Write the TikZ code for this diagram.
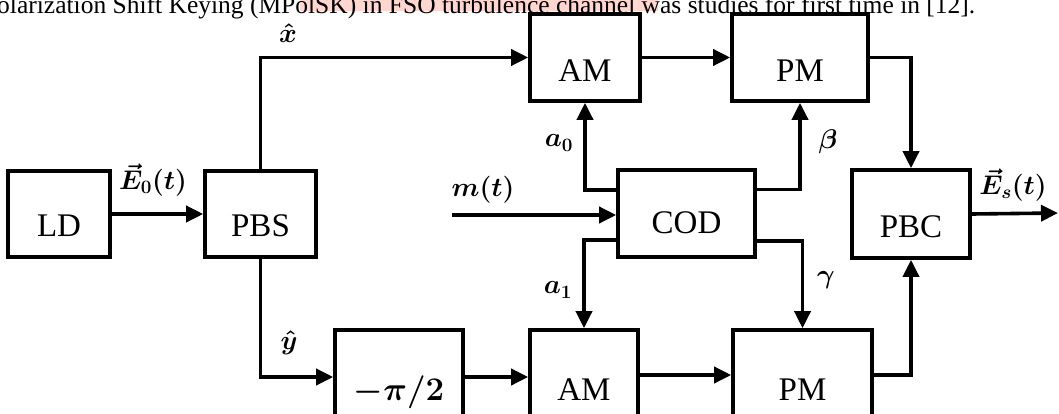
\RequirePackage{fix-cm}
\documentclass[tikz,border=0pt]{standalone}
\usepackage{amsmath}
\usepackage{fontspec}
\setmainfont{Liberation Serif}
\usetikzlibrary{arrows.meta}
\definecolor{hl}{RGB}{255,214,208}
\tikzset{
  blk/.style={draw, line width=3.6pt, inner sep=0pt, font=\fontsize{33}{36}\selectfont},
  arr/.style={line width=3.6pt, -{Triangle[length=17pt,width=16pt]}},
  lbl/.style={inner sep=0pt, font=\fontsize{27}{30}\selectfont\boldmath},
}
\newcommand\lowt[2]{\raisebox{-#1}[0pt][0pt]{#2}}
\begin{document}
\begin{tikzpicture}[x=1pt,y=-1pt]
\useasboundingbox (0,0) rectangle (1059,414);
\clip (0,0) rectangle (1059,414);
% cut-off caption line
\fill[hl] (300,-6) rectangle (658,11);
\node[anchor=base west, inner sep=0pt, font=\fontsize{25.5}{28}\selectfont] (cap) at (-3,13.5)
  {olarization Shift Keying (MPolSK) in FSO turbulence channel was studies for first time in [12].};
% blocks
\node[blk, minimum width=102pt, minimum height=86pt] (LD)  at (59,214)    {\lowt{22pt}{LD}};
\node[blk, minimum width=111pt, minimum height=86pt] (PBS) at (260.5,214) {\lowt{22pt}{PBS}};
\node[blk, minimum width=110pt, minimum height=87pt] (AMt) at (585,57.5)  {\lowt{24pt}{AM}};
\node[blk, minimum width=136pt, minimum height=87pt] (PMt) at (800,57.5)  {\lowt{24pt}{PM}};
\node[blk, minimum width=137pt, minimum height=87pt] (COD) at (686.5,213.5) {\lowt{20pt}{COD}};
\node[blk, minimum width=118pt, minimum height=88pt] (PBC) at (911,214)   {\lowt{24pt}{PBC}};
\node[blk, minimum width=128pt, minimum height=87pt] (NEG) at (399,373.5) {\lowt{27pt}{$\boldsymbol{-\pi/2}$}};
\node[blk, minimum width=108pt, minimum height=87pt] (AMb) at (584,373.5) {\lowt{27pt}{AM}};
\node[blk, minimum width=139pt, minimum height=87pt] (PMb) at (802.5,373.5) {\lowt{27pt}{PM}};
\coordinate (mIn) at (452,215);
\coordinate (out) at (1058,213);
% connectors
\draw[arr] (LD) -- (PBS);
\draw[arr] (PBS.north) |- (AMt.west);
\draw[arr] (AMt) -- (PMt);
\draw[arr] (PMt.east) -| (PBC.north);
\draw[arr] (PBC.east) -- (out);
\draw[arr] (PBS.south) |- ([yshift=-3.5pt]NEG.west);
\draw[arr] ([yshift=-3.5pt]NEG.east) -- ([yshift=-3.5pt]AMb.west);
\draw[arr] ([yshift=-1.5pt]AMb.east) -- ([yshift=-1.5pt]PMb.west);
\draw[arr] ([yshift=-1.5pt]PMb.east) -| (PBC.south);
\draw[arr] (mIn) -- (mIn -| COD.west);
\draw[arr] ([yshift=23.5pt]COD.west) -| (AMt.south);
\draw[arr] ([yshift=-26.5pt]COD.west) -| (AMb.north);
\draw[arr] ([yshift=24pt]COD.east) -| (PMt.south);
\draw[arr] ([yshift=-27.5pt]COD.east) -| (PMb.north);
% labels
\node[lbl] (lE0) at (153,180) {$\vec{E}_0(t)$};
\node[lbl] (lEs) at (1013,185) {$\vec{E}_s(t)$};
\node[lbl] (lx)  at (288,33)  {$\hat{x}$};
\node[lbl] (ly)  at (289,343) {$\hat{y}$};
\node[lbl] (la0) at (559,143) {$a_0$};
\node[lbl] (la1) at (558,290) {$a_1$};
\node[lbl] (lm)  at (483,190) {$m(t)$};
\node[lbl] (lb)  at (828,142) {$\beta$};
\node[lbl] (lg)  at (826,280) {$\gamma$};
\end{tikzpicture}
\end{document}
